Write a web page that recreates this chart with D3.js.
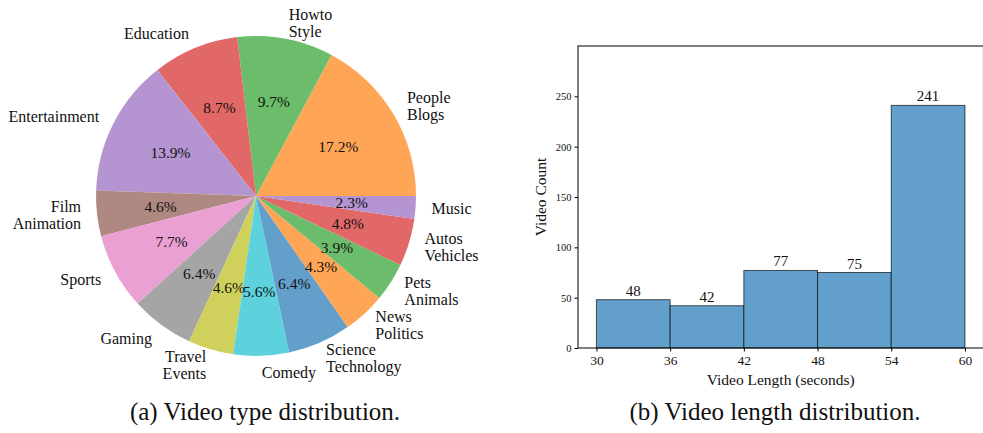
<!DOCTYPE html>
<html>
<head>
<meta charset="utf-8">
<script src="https://cdn.jsdelivr.net/npm/d3@7"></script>
<style>
  body { margin: 0; background: #fff; }
  svg { display: block; font-family: "Liberation Serif", "Times New Roman", serif; }
</style>
</head>
<body>
<svg id="chart" width="983" height="433"></svg>
<script>
// pie: video type share (%)
const typeLabels = ['People\nBlogs', 'Howto\nStyle', 'Education', 'Entertainment', 'Film\nAnimation',
  'Sports', 'Gaming', 'Travel\nEvents', 'Comedy', 'Science\nTechnology', 'News\nPolitics',
  'Pets\nAnimals', 'Autos\nVehicles', 'Music']
const typeShares = [17.2, 9.7, 8.7, 13.9, 4.6, 7.7, 6.4, 4.6, 5.6, 6.4, 4.3, 3.9, 4.8, 2.3]
const typeColors = ['#ffa556', '#6bbc6b', '#e26868', '#b495d1', '#af8981', '#eba0d4',
  '#a5a5a5', '#d0d15c', '#5dd2dd', '#629fcb', '#ffa556', '#6bbc6b', '#e26868', '#b495d1']

// histogram: video length (seconds)
const binEdges = [30, 36, 42, 48, 54, 60]
const binCounts = [48, 42, 77, 75, 241]
const yTicks = [0, 50, 100, 150, 200, 250]

const svg = d3.select('#chart')

// ---- (a) pie ----
const cx = 256, cy = 196, r = 160

const pie = d3.pie().sort(null).value(d => d)
  .startAngle(Math.PI / 2).endAngle(Math.PI / 2 - 2 * Math.PI)
const arcs = pie(typeShares)
const arc = d3.arc().innerRadius(0).outerRadius(r)

const gPie = svg.append('g').attr('transform', 'translate(' + cx + ',' + cy + ')')

gPie.selectAll('path')
  .data(arcs)
  .enter().append('path')
    .attr('d', arc)
    .attr('fill', (d, i) => typeColors[i])

// percent labels at 0.6 r
gPie.selectAll('text.pct')
  .data(arcs)
  .enter().append('text')
    .attr('class', 'pct')
    .attr('x', d => 0.6 * r * Math.sin((d.startAngle + d.endAngle) / 2))
    .attr('y', d => -0.6 * r * Math.cos((d.startAngle + d.endAngle) / 2))
    .attr('dy', '0.35em')
    .attr('text-anchor', 'middle')
    .attr('font-size', 15.5)
    .attr('fill', '#111')
    .text(d => d.value.toFixed(1) + '%')

// category labels at 1.1 r
const lineGap = 17
arcs.forEach((d, i) => {
  const a = (d.startAngle + d.endAngle) / 2
  const lx = 1.1 * r * Math.sin(a)
  const ly = -1.1 * r * Math.cos(a)
  const lines = typeLabels[i].split('\n')
  const t = gPie.append('text')
    .attr('text-anchor', lx > 0 ? 'start' : 'end')
    .attr('font-size', 16)
    .attr('fill', '#111')
  lines.forEach((ln, j) => {
    t.append('tspan')
      .attr('x', lx)
      .attr('y', ly + (j - (lines.length - 1) / 2) * lineGap)
      .attr('dy', '0.35em')
      .text(ln)
  })
})

// ---- (b) histogram ----
const axLeft = 578, axTop = 46, axBottom = 348, axRight = 983.4

const x = d3.scaleLinear().domain([28.5, 61.5]).range([axLeft, axRight])
const y = d3.scaleLinear().domain([0, 300]).range([axBottom, axTop])

const bins = binCounts.map((c, i) => ({ x0: binEdges[i], x1: binEdges[i + 1], count: c }))

const gHist = svg.append('g')

gHist.selectAll('rect')
  .data(bins)
  .enter().append('rect')
    .attr('x', d => x(d.x0))
    .attr('y', d => y(d.count))
    .attr('width', d => x(d.x1) - x(d.x0))
    .attr('height', d => y(0) - y(d.count))
    .attr('fill', '#629fcb')
    .attr('stroke', 'rgba(0,0,0,0.65)')
    .attr('stroke-width', 1)

gHist.selectAll('text.val')
  .data(bins)
  .enter().append('text')
    .attr('class', 'val')
    .attr('x', d => x((d.x0 + d.x1) / 2))
    .attr('y', d => y(d.count) - 4)
    .attr('text-anchor', 'middle')
    .attr('font-size', 15)
    .attr('fill', '#111')
    .text(d => d.count)

// axes
const xAxis = gHist.append('g')
  .attr('transform', 'translate(0,' + axBottom + ')')
  .call(d3.axisBottom(x).tickValues(binEdges).tickSize(3.5).tickPadding(4))
xAxis.selectAll('text').attr('font-size', 13.5).attr('font-family', 'Liberation Serif').attr('fill', '#111')

const yAxis = gHist.append('g')
  .attr('transform', 'translate(' + axLeft + ',0)')
  .call(d3.axisLeft(y).tickValues(yTicks).tickSize(3.5).tickPadding(3))
yAxis.selectAll('text').attr('font-size', 10.5).attr('font-family', 'Liberation Serif').attr('fill', '#111')

gHist.selectAll('.domain').remove()

// spines
gHist.append('rect')
  .attr('x', axLeft).attr('y', axTop)
  .attr('width', axRight - axLeft).attr('height', axBottom - axTop)
  .attr('fill', 'none')
  .attr('stroke', '#000')
  .attr('stroke-width', 1)

gHist.append('text')
  .attr('x', (axLeft + axRight) / 2)
  .attr('y', 385)
  .attr('text-anchor', 'middle')
  .attr('font-size', 15.5)
  .attr('fill', '#111')
  .text('Video Length (seconds)')

gHist.append('text')
  .attr('transform', 'translate(546,' + (axTop + axBottom) / 2 + ') rotate(-90)')
  .attr('text-anchor', 'middle')
  .attr('font-size', 15.5)
  .attr('fill', '#111')
  .text('Video Count')

// captions
svg.append('text')
  .attr('x', 265).attr('y', 420)
  .attr('text-anchor', 'middle')
  .attr('font-size', 25)
  .attr('fill', '#111')
  .text('(a) Video type distribution.')

svg.append('text')
  .attr('x', 775).attr('y', 420)
  .attr('text-anchor', 'middle')
  .attr('font-size', 25)
  .attr('fill', '#111')
  .text('(b) Video length distribution.')
</script>
</body>
</html>
